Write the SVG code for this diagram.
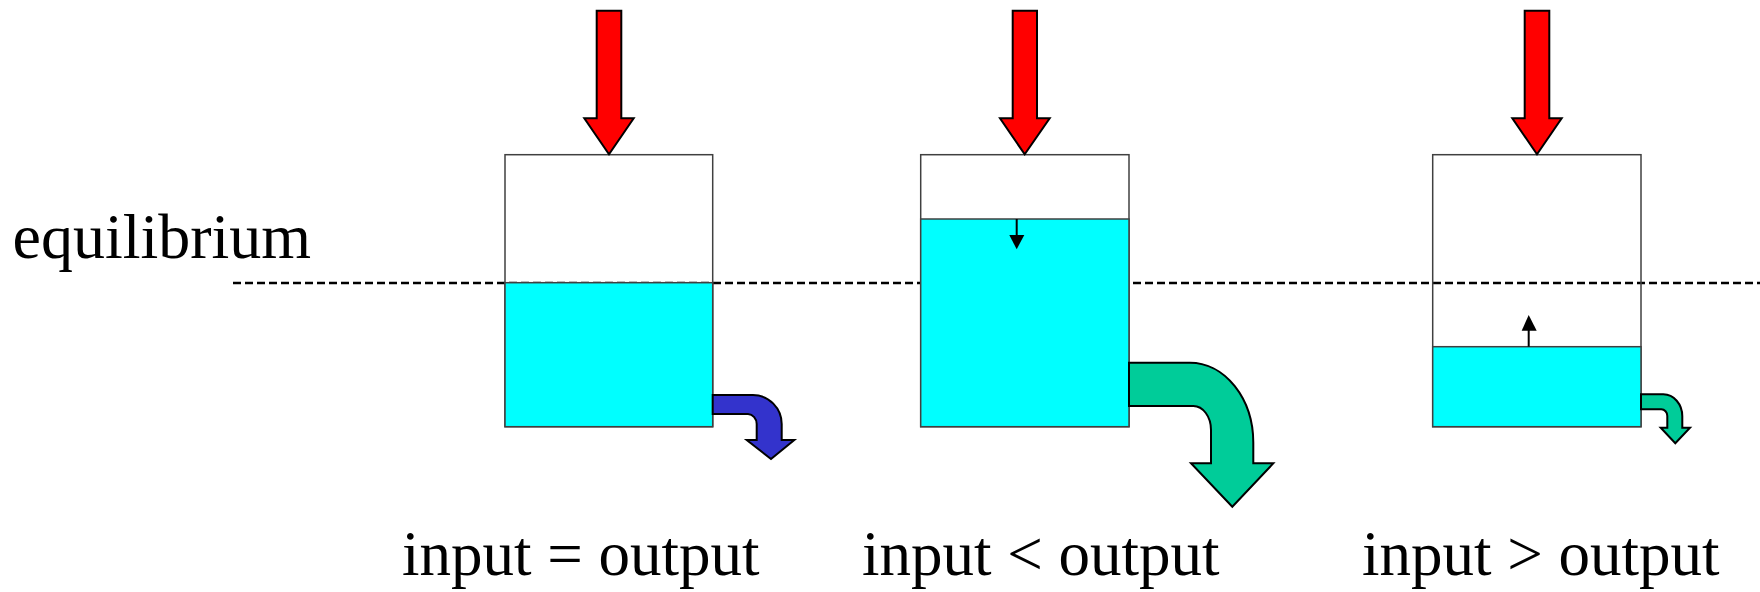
<svg xmlns="http://www.w3.org/2000/svg" width="1760" height="592" viewBox="0 0 1760 592">
<style>
.lbl{font-family:"Liberation Serif","Times New Roman",serif;font-size:64px;fill:#000}
.cap{font-size:63px}
.box{fill:none;stroke:#404040;stroke-width:1.5}
.water{fill:#00FFFF;stroke:#404040;stroke-width:1.5}
.inflow{fill:#FF0000;stroke:#000;stroke-width:2;stroke-linejoin:miter}
.out-blue{fill:#3333CC;stroke:#000;stroke-width:2}
.out-green{fill:#00CC99;stroke:#000;stroke-width:2}
.lvl{stroke:#000;stroke-width:2;fill:none}
.lvlhead{fill:#000}
.eq{stroke:#000;stroke-width:2.5;stroke-dasharray:8 4;fill:none}
</style>
<rect width="1760" height="592" fill="#fff"/>
<g id="connectors">
<line class="eq" x1="233" y1="283" x2="1760" y2="283"/>
</g>
<g id="tank1">
<rect class="box" x="505" y="154.7" width="207.7" height="272"/>
<rect class="water" x="505" y="282.7" width="207.7" height="144"/>
<path class="inflow" d="M596.7,10.7 H621.3 V118.3 H633.7 L609,154.3 L584.3,118.3 H596.7 Z"/>
<path class="out-blue" d="M712.7,395 H753 A29,29 0 0 1 781.7,424 V440 H794.3 L771,459 L746.7,440 H756.7 V424 A9,10 0 0 0 748,414 H712.7 Z"/>
</g>
<g id="tank2">
<rect class="box" x="920.7" y="154.7" width="208.3" height="272"/>
<rect class="water" x="920.7" y="219" width="208.3" height="207.7"/>
<line class="lvl" x1="1016.7" y1="219" x2="1016.7" y2="237"/>
<path class="lvlhead" d="M1009.3,235 H1024.3 L1016.7,249.3 Z"/>
<path class="inflow" d="M1012.7,10.7 H1037 V118.3 H1049.7 L1024.7,154.3 L1000,118.3 H1012.7 Z"/>
<path class="out-green" d="M1129,362.7 H1190 A63.3,80 0 0 1 1253.3,442.7 V463.3 H1273.3 L1232.3,506.7 L1191,463.3 H1211 V430 A17.7,24 0 0 0 1193.3,406 H1129 Z"/>
</g>
<g id="tank3">
<rect class="box" x="1432.7" y="154.7" width="208.3" height="272"/>
<rect class="water" x="1432.7" y="346.7" width="208.3" height="80"/>
<line class="lvl" x1="1528.7" y1="346.7" x2="1528.7" y2="329"/>
<path class="lvlhead" d="M1521.7,330.7 H1536.7 L1528.7,315 Z"/>
<path class="inflow" d="M1524.7,10.7 H1549.3 V118.3 H1561.7 L1537,154.3 L1512.3,118.3 H1524.7 Z"/>
<path class="out-green" d="M1641,394.3 H1663.3 A19,22 0 0 1 1682.3,416.3 V427.7 H1690 L1675.3,443.3 L1660.7,427.7 H1667.3 V416 A6,6.7 0 0 0 1661.3,409.3 H1641 Z"/>
</g>
<g id="labels">
<text class="lbl" x="12.5" y="258">equilibrium</text>
<text class="lbl cap" x="402" y="575">input = output</text>
<text class="lbl cap" x="862" y="575">input &lt; output</text>
<text class="lbl cap" x="1362" y="575">input &gt; output</text>
</g>
</svg>
